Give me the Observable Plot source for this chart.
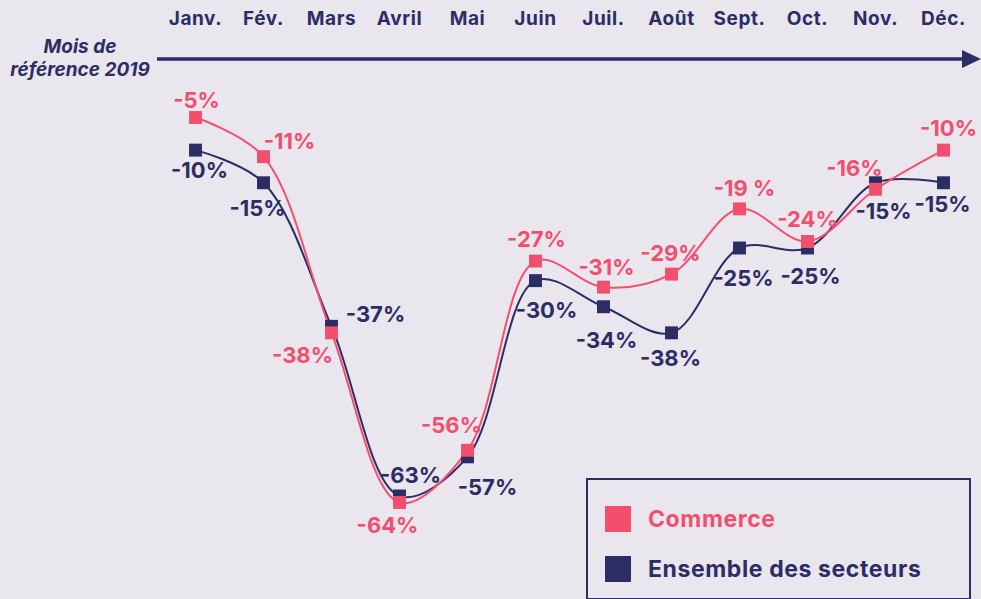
<!DOCTYPE html>
<html>
<head>
<meta charset="utf-8">
<script src="https://cdn.jsdelivr.net/npm/d3@7"></script>
<script src="https://cdn.jsdelivr.net/npm/@observablehq/plot@0.6"></script>
<style>
  html, body { margin: 0; padding: 0; background: #e9e6ee; }
  #wrap { position: relative; width: 981px; height: 599px; overflow: hidden; font-family: Inter, "Noto Sans", sans-serif; }
  #legend { position: absolute; left: 586px; top: 478px; width: 381px; height: 118px; border: 2px solid #2d2d66; box-sizing: content-box; }
  .lg-row { position: absolute; left: 17px; display: flex; align-items: center; font-weight: 700; font-size: 23px; letter-spacing: 0.6px; }
  .lg-sw { width: 26px; height: 26px; margin-right: 17px; }
</style>
</head>
<body>
<div id="wrap"></div>
<script>
const months = ["Janv.", "Fév.", "Mars", "Avril", "Mai", "Juin", "Juil.", "Août", "Sept.", "Oct.", "Nov.", "Déc."];
const commerce = [-5, -11, -38, -64, -56, -27, -31, -29, -19, -24, -16, -10];
const ensemble = [-10, -15, -37, -63, -57, -30, -34, -38, -25, -25, -15, -15];
const commerceLabels = ["-5%", "-11%", "-38%", "-64%", "-56%", "-27%", "-31%", "-29%", "-19 %", "-24%", "-16%", "-10%"];
const ensembleLabels = ["-10%", "-15%", "-37%", "-63%", "-57%", "-30%", "-34%", "-38%", "-25%", "-25%", "-15%", "-15%"];
const seriesNames = ["Commerce", "Ensemble des secteurs"];
const axisTitle = ["Mois de", "référence 2019"];

// label placement (offsets in px from each point)
const commerceLabelDx = [1, 26, -29, -12, -16, 1, 3, -1, 5, 0, -21, 5];
const commerceLabelDy = [-17, -15, 23, 23, -24, -21, -19, -20, -20, -22, -20, -21];
const ensembleLabelDx = [4, -6, 44, 11, 20, 11, 3, -1, 4, 3, 8, -1];
const ensembleLabelDy = [21, 26, -11, -20, 31, 30, 34, 26, 31, 29, 29, 22];

const PINK = "#f24f6e";
const NAVY = "#2d2d66";

const dataC = months.map((m, i) => ({month: m, value: commerce[i], label: commerceLabels[i], dx: commerceLabelDx[i], dy: commerceLabelDy[i]}));
const dataE = months.map((m, i) => ({month: m, value: ensemble[i], label: ensembleLabels[i], dx: ensembleLabelDx[i], dy: ensembleLabelDy[i]}));

const labelMarks = (data, color) => data.map(d => Plot.text([d], {
  x: "month", y: "value", text: "label", dx: d.dx, dy: d.dy,
  fill: color, fontSize: 22, fontWeight: 700, textAnchor: "middle", lineAnchor: "middle"
}));

const chart = Plot.plot({
  width: 981,
  height: 599,
  marginTop: 11, marginBottom: 0, marginLeft: 0, marginRight: 0,
  style: {background: "#e9e6ee", fontFamily: "Inter, 'Noto Sans', sans-serif", overflow: "visible"},
  x: {type: "point", domain: months, range: [190, 947], padding: 0, axis: null},
  y: {domain: [-64, -5], range: [502, 117], axis: null},
  marks: [
    Plot.text(months, {x: d => d, frameAnchor: "top", lineAnchor: "top", text: d => d, fill: NAVY, fontSize: 19, fontWeight: 700, style: {letterSpacing: "0.6px"}}),
    Plot.line(dataE, {x: "month", y: "value", stroke: NAVY, strokeWidth: 2, curve: "catmull-rom"}),
    Plot.line(dataC, {x: "month", y: "value", stroke: PINK, strokeWidth: 2, curve: "catmull-rom"}),
    Plot.dot(dataE, {x: "month", y: "value", symbol: "square", r: 7.3, fill: NAVY}),
    Plot.dot(dataC, {x: "month", y: "value", symbol: "square", r: 7.3, fill: PINK}),
    ...labelMarks(dataC, PINK),
    ...labelMarks(dataE, NAVY)
  ]
});

const svg = d3.select(chart);
svg.selectAll("text").filter(function() { return months.includes(this.textContent); }).style("letter-spacing", "0.6px");
// arrow axis line
svg.append("line").attr("x1", 157).attr("x2", 965).attr("y1", 59).attr("y2", 59)
  .attr("stroke", NAVY).attr("stroke-width", 3.5);
svg.append("path").attr("d", "M962,50 L981,59 L962,68 Z").attr("fill", NAVY);
// axis title
const t = svg.append("text").attr("text-anchor", "middle").attr("fill", NAVY)
  .attr("font-size", 19).attr("font-weight", 700).attr("font-style", "italic");
axisTitle.forEach((s, i) => t.append("tspan").attr("x", 80).attr("y", 53 + i * 23).text(s));

const wrap = document.getElementById("wrap");
wrap.appendChild(chart);

const legend = document.createElement("div");
legend.id = "legend";
[PINK, NAVY].forEach((c, i) => {
  const row = document.createElement("div");
  row.className = "lg-row";
  row.style.top = (25 + i * 50) + "px";
  row.style.color = c;
  const sw = document.createElement("div");
  sw.className = "lg-sw";
  sw.style.background = c;
  const tx = document.createElement("span");
  tx.textContent = seriesNames[i];
  row.appendChild(sw); row.appendChild(tx);
  legend.appendChild(row);
});
wrap.appendChild(legend);
</script>
</body>
</html>
